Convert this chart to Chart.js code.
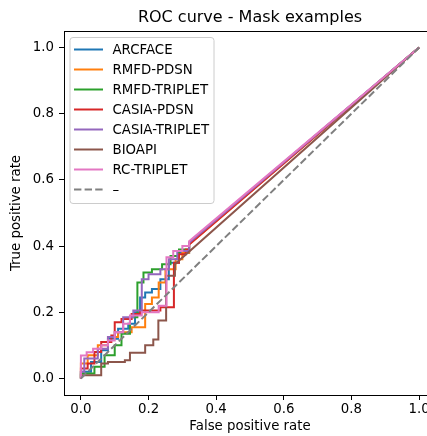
<!DOCTYPE html>
<html>
<head>
<meta charset="utf-8">
<script src="https://cdn.jsdelivr.net/npm/chart.js@4/dist/chart.umd.min.js"></script>
<style>
  html, body { margin: 0; padding: 0; background: #fff; overflow: hidden; }
  #wrap { width: 440px; height: 436px; }
</style>
</head>
<body>
<div id="wrap"><canvas id="rocChart" width="440" height="436"></canvas></div>
<script>
// ROC points (false positive rate / true positive rate)
var arcfaceFpr = [0, 0, 0.03, 0.03, 0.06, 0.06, 0.08, 0.08, 0.11, 0.11, 0.14, 0.14, 0.16, 0.16, 0.175, 0.175, 0.19, 0.19, 0.21, 0.21, 0.235, 0.235, 0.26, 0.26, 0.29, 0.29, 0.32, 0.32, 1];
var arcfaceTpr = [0, 0.02, 0.02, 0.05, 0.05, 0.085, 0.085, 0.12, 0.12, 0.15, 0.15, 0.165, 0.165, 0.2, 0.2, 0.245, 0.245, 0.26, 0.26, 0.27, 0.27, 0.3, 0.3, 0.35, 0.35, 0.38, 0.38, 0.41, 1];

var rmfdPdsnFpr = [0, 0, 0.02, 0.02, 0.05, 0.05, 0.08, 0.08, 0.11, 0.11, 0.15, 0.15, 0.19, 0.19, 0.21, 0.21, 0.23, 0.23, 0.25, 0.25, 0.28, 0.28, 0.3, 0.3, 0.32, 0.32, 1];
var rmfdPdsnTpr = [0, 0.045, 0.045, 0.07, 0.07, 0.1, 0.1, 0.125, 0.125, 0.14, 0.14, 0.155, 0.155, 0.225, 0.225, 0.245, 0.245, 0.29, 0.29, 0.33, 0.33, 0.36, 0.36, 0.38, 0.38, 0.405, 1];

var rmfdTripletFpr = [0, 0, 0.04, 0.04, 0.07, 0.07, 0.1, 0.1, 0.12, 0.12, 0.145, 0.145, 0.167, 0.167, 0.185, 0.185, 0.21, 0.21, 0.24, 0.24, 0.265, 0.265, 0.29, 0.29, 0.32, 0.32, 1];
var rmfdTripletTpr = [0, 0.015, 0.015, 0.035, 0.035, 0.07, 0.07, 0.1, 0.1, 0.135, 0.135, 0.185, 0.185, 0.29, 0.29, 0.32, 0.32, 0.33, 0.33, 0.345, 0.345, 0.37, 0.37, 0.39, 0.39, 0.41, 1];

var casiaPdsnFpr = [0, 0, 0.02, 0.02, 0.04, 0.04, 0.06, 0.06, 0.09, 0.09, 0.1, 0.1, 0.12, 0.12, 0.15, 0.15, 0.175, 0.175, 0.235, 0.235, 0.275, 0.275, 0.29, 0.29, 0.31, 0.31, 0.32, 0.32, 1];
var casiaPdsnTpr = [0, 0.03, 0.03, 0.045, 0.045, 0.08, 0.08, 0.11, 0.11, 0.13, 0.13, 0.17, 0.17, 0.18, 0.18, 0.195, 0.195, 0.205, 0.205, 0.215, 0.215, 0.35, 0.35, 0.375, 0.375, 0.39, 0.39, 0.405, 1];

var casiaTripletFpr = [0, 0, 0.01, 0.01, 0.05, 0.05, 0.08, 0.08, 0.1, 0.1, 0.125, 0.125, 0.155, 0.155, 0.18, 0.18, 0.2, 0.2, 0.235, 0.235, 0.26, 0.26, 0.285, 0.285, 0.32, 0.32, 1];
var casiaTripletTpr = [0, 0.02, 0.02, 0.06, 0.06, 0.09, 0.09, 0.125, 0.125, 0.14, 0.14, 0.185, 0.185, 0.205, 0.205, 0.3, 0.3, 0.315, 0.315, 0.33, 0.33, 0.36, 0.36, 0.385, 0.385, 0.41, 1];

var bioapiFpr = [0, 0, 0.06, 0.06, 0.08, 0.08, 0.13, 0.13, 0.145, 0.145, 0.19, 0.19, 0.214, 0.214, 0.229, 0.229, 0.252, 0.252, 0.278, 0.278, 1];
var bioapiTpr = [0, 0.01, 0.01, 0.045, 0.045, 0.05, 0.05, 0.055, 0.055, 0.078, 0.078, 0.1, 0.1, 0.118, 0.118, 0.175, 0.175, 0.31, 0.31, 0.345, 1];

var rcTripletFpr = [0, 0, 0.017, 0.017, 0.036, 0.036, 0.06, 0.06, 0.08, 0.08, 0.1, 0.1, 0.125, 0.125, 0.145, 0.145, 0.18, 0.18, 0.23, 0.23, 0.253, 0.253, 0.273, 0.273, 0.3, 0.3, 0.32, 0.32, 1];
var rcTripletTpr = [0, 0.069, 0.069, 0.079, 0.079, 0.09, 0.09, 0.1, 0.1, 0.115, 0.115, 0.14, 0.14, 0.165, 0.165, 0.19, 0.19, 0.2, 0.2, 0.22, 0.22, 0.366, 0.366, 0.385, 0.385, 0.4, 0.4, 0.415, 1];

var chanceFpr = [0, 1];
var chanceTpr = [0, 1];

var seriesNames = ['ARCFACE', 'RMFD-PDSN', 'RMFD-TRIPLET', 'CASIA-PDSN', 'CASIA-TRIPLET', 'BIOAPI', 'RC-TRIPLET', '–'];
var tickValues = [0, 0.2, 0.4, 0.6, 0.8, 1.0];

var FONT = 'DejaVu Sans';
var colors = ['#1f77b4', '#ff7f0e', '#2ca02c', '#d62728', '#9467bd', '#8c564b', '#e377c2', '#808080'];
var allFpr = [arcfaceFpr, rmfdPdsnFpr, rmfdTripletFpr, casiaPdsnFpr, casiaTripletFpr, bioapiFpr, rcTripletFpr, chanceFpr];
var allTpr = [arcfaceTpr, rmfdPdsnTpr, rmfdTripletTpr, casiaPdsnTpr, casiaTripletTpr, bioapiTpr, rcTripletTpr, chanceTpr];

function toPoints(xs, ys) {
  return xs.map(function(x, i) { return { x: x, y: ys[i] }; });
}

var datasets = seriesNames.map(function(name, i) {
  var dashed = i === seriesNames.length - 1;
  return {
    label: name,
    data: toPoints(allFpr[i], allTpr[i]),
    borderColor: colors[i],
    backgroundColor: colors[i],
    borderWidth: 2,
    borderDash: dashed ? [7.4, 3.2] : [],
    pointRadius: 0,
    showLine: true,
    fill: false,
    tension: 0,
    // later series drawn on top, like matplotlib
    order: dashed ? 0 : seriesNames.length - i
  };
});

// draws the top/right spines
var framePlugin = {
  id: 'frame',
  afterDraw: function(chart) {
    var a = chart.chartArea, c = chart.ctx;
    c.save();
    c.strokeStyle = '#000';
    c.lineWidth = 1;
    c.beginPath();
    c.moveTo(a.left, a.top + 0.5);
    c.lineTo(a.right, a.top + 0.5);
    c.moveTo(a.right - 0.5, a.top);
    c.lineTo(a.right - 0.5, a.bottom);
    c.stroke();
    c.restore();
  }
};

// legend box inside the plot, upper left
var legendPlugin = {
  id: 'innerLegend',
  afterDatasetsDraw: function(chart) {
    var a = chart.chartArea, c = chart.ctx;
    var lx = a.left + 6, ly = a.top + 6.5, lw = 144, lh = 166;
    c.save();
    c.beginPath();
    c.roundRect(lx, ly, lw, lh, 3);
    c.fillStyle = 'rgba(255,255,255,0.8)';
    c.fill();
    c.strokeStyle = '#cccccc';
    c.lineWidth = 1;
    c.stroke();
    chart.data.datasets.forEach(function(ds, i) {
      var cy = ly + 12 + 20 * i;
      c.beginPath();
      c.setLineDash(ds.borderDash || []);
      c.strokeStyle = ds.borderColor;
      c.lineWidth = 2;
      c.moveTo(lx + 4, cy);
      c.lineTo(lx + 33, cy);
      c.stroke();
      c.setLineDash([]);
      c.fillStyle = '#000';
      c.font = '13.33px "' + FONT + '"';
      c.textAlign = 'left';
      c.textBaseline = 'alphabetic';
      c.fillText(ds.label, lx + 42.5, cy + 4.6);
    });
    c.restore();
  }
};

var tickFont = { family: FONT, size: 13.33 };

var ctx = document.getElementById('rocChart').getContext('2d');
var rocChart = new Chart(ctx, {
  type: 'scatter',
  data: { datasets: datasets },
  options: {
    responsive: false,
    devicePixelRatio: 1,
    animation: false,
    layout: { padding: { left: 0, right: 4, top: 0, bottom: 0 } },
    plugins: {
      legend: { display: false },
      tooltip: { enabled: false },
      title: {
        display: true,
        text: 'ROC curve - Mask examples',
        color: '#000',
        fullSize: false,
        font: { family: FONT, size: 16, weight: 'normal' },
        padding: { top: 8.2, bottom: 3.6 }
      }
    },
    scales: {
      x: {
        type: 'linear',
        min: -0.05,
        max: 1.05,
        afterBuildTicks: function(s) { s.ticks = tickValues.map(function(v) { return { value: v }; }); },
        afterFit: function(s) { s.height = 41; },
        ticks: {
          callback: function(v) { return v.toFixed(1); },
          color: '#000',
          font: tickFont,
          padding: 2,
          maxRotation: 0,
          autoSkip: false
        },
        grid: { drawOnChartArea: false, drawTicks: true, tickLength: 5, tickWidth: 1, tickColor: '#000' },
        border: { display: true, color: '#000', width: 1 },
        title: {
          display: true,
          text: 'False positive rate',
          color: '#000',
          font: tickFont,
          padding: { top: 0, bottom: 1.6 }
        }
      },
      y: {
        type: 'linear',
        min: -0.05,
        max: 1.05,
        afterBuildTicks: function(s) { s.ticks = tickValues.map(function(v) { return { value: v }; }); },
        afterFit: function(s) { s.width = 64; },
        ticks: {
          callback: function(v) { return v.toFixed(1); },
          color: '#000',
          font: tickFont,
          padding: 5,
          autoSkip: false
        },
        grid: { drawOnChartArea: false, drawTicks: true, tickLength: 5, tickWidth: 1, tickColor: '#000' },
        border: { display: true, color: '#000', width: 1 },
        title: {
          display: true,
          text: 'True positive rate',
          color: '#000',
          font: tickFont,
          padding: { top: 9, bottom: 0 }
        }
      }
    }
  },
  plugins: [framePlugin, legendPlugin]
});
</script>
</body>
</html>
